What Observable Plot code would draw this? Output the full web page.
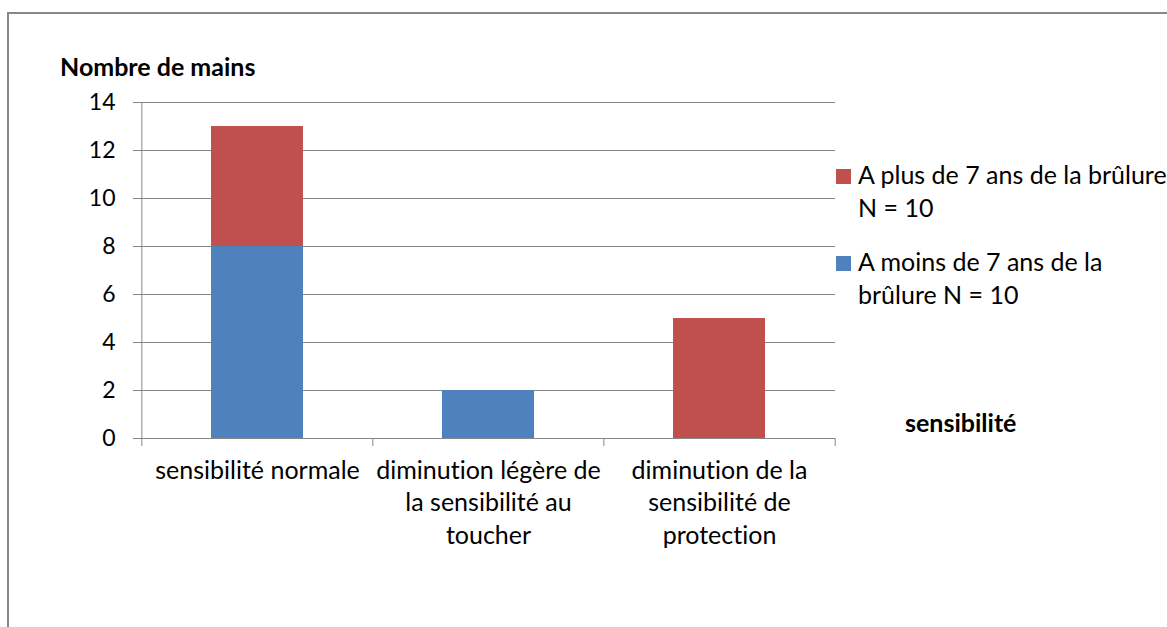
<!DOCTYPE html>
<html><head><meta charset="utf-8">
<script src="https://cdn.jsdelivr.net/npm/d3@7"></script>
<script src="https://cdn.jsdelivr.net/npm/@observablehq/plot@0.6"></script>
<style>
body{margin:0;background:#fff;}
#wrap{position:relative;width:1167px;height:627px;overflow:hidden;font-family:Lato,sans-serif;color:#000;font-variant-ligatures:none;}
#wrap svg text{font-variant-ligatures:none;}
#border{position:absolute;left:7px;top:12px;width:1300px;height:800px;border:2px solid #878787;box-sizing:border-box;}
#chart{position:absolute;left:0;top:0;}
.lbl{position:absolute;white-space:nowrap;font-size:25px;line-height:25px;}
.bold{font-weight:bold;}
.leg{position:absolute;left:836px;display:flex;align-items:flex-start;}
.sw{width:15px;height:15px;margin-top:11px;margin-right:7px;flex:none;}
.lt{font-size:25px;line-height:33px;white-space:nowrap;}
</style></head><body>
<div id="wrap">
  <div id="border"></div>
  <div id="chart"></div>
  <div class="lbl bold" id="ytitle" style="left:60px;top:54px;">Nombre de mains</div>
  <div class="lbl bold" id="xtitle" style="left:905px;top:410px;">sensibilité</div>
  <div id="legend"></div>
</div>
<script>
const categories = ["sensibilité normale", "diminution légère de la sensibilité au toucher", "diminution de la sensibilité de protection"];
const tickLabels = ["sensibilité normale", "diminution légère de\nla sensibilité au\ntoucher", "diminution de la\nsensibilité de\nprotection"];
const seriesNames = ["A moins de 7 ans de la brûlure N = 10", "A plus de 7 ans de la brûlure N = 10"];
const legendLabels = ["A moins de 7 ans de la<br>brûlure N = 10", "A plus de 7 ans de la brûlure<br>N = 10"];
const moins7 = [8, 2, 0];
const plus7 = [5, 0, 5];
const seriesColors = ["#4F81BD", "#C0504D"];
const yTicks = [0, 2, 4, 6, 8, 10, 12, 14];

const seriesValues = [moins7, plus7];
const rows = [];
categories.forEach((c, i) => seriesNames.forEach((s, j) => {
  if (seriesValues[j][i] > 0) rows.push({category: c, series: s, value: seriesValues[j][i]});
}));

const W = 1167, H = 627, mL = 141, mR = 332, mT = 102, mB = 189;
const step = (W - mL - mR) / categories.length;
const gray = "#868686";

const chart = Plot.plot({
  width: W, height: H,
  marginLeft: mL, marginRight: mR, marginTop: mT, marginBottom: mB,
  style: {fontFamily: "Lato, sans-serif", fontSize: "25px", color: "#000", background: "transparent", overflow: "visible"},
  x: {domain: categories, paddingInner: 0.6, paddingOuter: 0.3, label: null},
  y: {domain: [0, 14], label: null},
  color: {domain: seriesNames, range: seriesColors},
  marks: [
    Plot.gridY(yTicks, {stroke: gray, strokeOpacity: 1, strokeWidth: 1}),
    Plot.barY(rows, {x: "category", y: "value", fill: "series"}),
    Plot.axisY(yTicks, {tickSize: 8, tickPadding: 18, stroke: gray, strokeOpacity: 1, label: null, fontSize: 23}),
    Plot.axisX({tickSize: 0, tickPadding: 17, lineHeight: 1.3, tickFormat: d => tickLabels[categories.indexOf(d)], label: null, fontSize: 25}),
    Plot.ruleY([0], {stroke: gray}),
    Plot.ruleX([categories[0]], {x: d => d, y1: 0, y2: 14, insetTop: 8, dx: -step / 2, stroke: gray}),
    Plot.ruleX(categories.slice(1), {x: d => d, y1: 0, y2: 0, insetTop: 8, dx: -step / 2, stroke: gray}),
    Plot.ruleX([categories[categories.length - 1]], {x: d => d, y1: 0, y2: 0, insetTop: 8, dx: step / 2, stroke: gray})
  ]
});
document.getElementById("chart").appendChild(chart);

// legend (top item = last series, as in the reference)
const legend = document.getElementById("legend");
const legendTops = [245, 158];
seriesNames.forEach((s, j) => {
  const item = document.createElement("div");
  item.className = "leg";
  item.style.top = legendTops[j] + "px";
  item.innerHTML = `<div class="sw" style="background:${seriesColors[j]}"></div><div class="lt">${legendLabels[j]}</div>`;
  legend.appendChild(item);
});
</script>
</body></html>
